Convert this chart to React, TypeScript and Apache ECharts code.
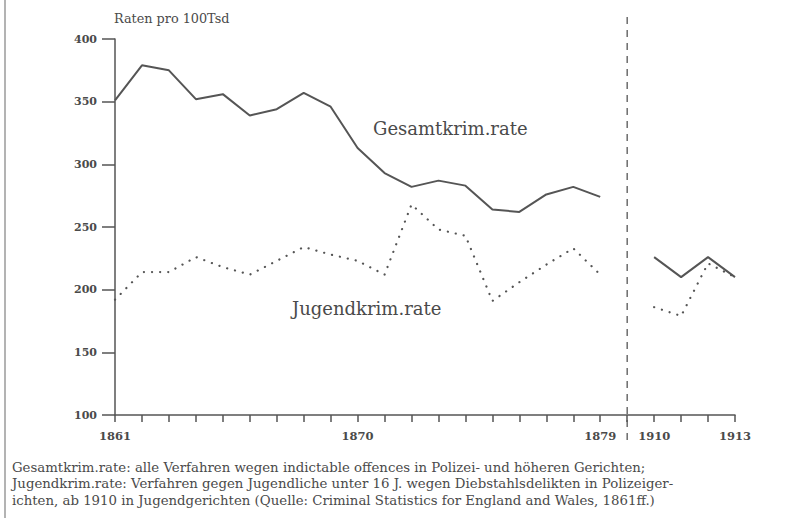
import React, { useEffect, useRef } from "react";
import * as echarts from "echarts";

const years: string[] = [
  "1861", "1862", "1863", "1864", "1865", "1866", "1867", "1868", "1869", "1870",
  "1871", "1872", "1873", "1874", "1875", "1876", "1877", "1878", "1879",
  "",
  "1910", "1911", "1912", "1913",
];
const gesamtRate: (number | null)[] = [
  351, 379, 375, 352, 356, 339, 344, 357, 346, 313,
  293, 282, 287, 283, 264, 262, 276, 282, 274,
  null,
  226, 210, 226, 210,
];
const jugendRate: (number | null)[] = [
  192, 214, 214, 226, 218, 212, 223, 234, 228, 223,
  212, 268, 248, 243, 191, 206, 220, 233, 212,
  null,
  186, 179, 221, 210,
];
const labelledYears: string[] = ["1861", "1870", "1879", "1910", "1913"];
const gapCategory = "";
const yTicks = { min: 100, max: 400, interval: 50 };
const footnote: string[] = [
  "Gesamtkrim.rate: alle Verfahren wegen indictable offences in Polizei- und höheren Gerichten;",
  "Jugendkrim.rate: Verfahren gegen Jugendliche unter 16 J. wegen Diebstahlsdelikten in Polizeiger-",
  "ichten, ab 1910 in Jugendgerichten (Quelle: Criminal Statistics for England and Wales, 1861ff.)",
];

const INK = "#555555";
const TXT = "#4a4a4a";
const SERIF = "'DejaVu Serif', 'Liberation Serif', serif";

export default function App() {
  const ref = useRef<HTMLDivElement>(null);
  useEffect(() => {
    if (!ref.current) return;
    const chart = echarts.init(ref.current, undefined, { renderer: "svg" });
    chart.setOption({
      animation: false,
      backgroundColor: "#ffffff",
      grid: { left: 115, right: 77, top: 39, bottom: 103 },
      xAxis: {
        type: "category",
        data: years,
        boundaryGap: false,
        axisLine: { lineStyle: { color: INK, width: 1.5 } },
        axisTick: { interval: 0, length: 7, lineStyle: { color: INK, width: 1.5 } },
        axisLabel: {
          interval: (_i: number, v: string) => labelledYears.includes(v),
          margin: 15,
          color: TXT,
          fontFamily: SERIF,
          fontWeight: "bold",
          fontSize: 11.5,
        },
        splitLine: { show: false },
      },
      yAxis: {
        type: "value",
        min: yTicks.min,
        max: yTicks.max,
        interval: yTicks.interval,
        name: "Raten pro 100Tsd",
        nameLocation: "end",
        nameGap: 14,
        nameTextStyle: { align: "left", color: TXT, fontFamily: SERIF, fontSize: 12.8, padding: [0, 0, 0, -1] },
        axisLine: { show: true, lineStyle: { color: INK, width: 1.5 } },
        axisTick: { show: true, length: 13, lineStyle: { color: INK, width: 1.5 } },
        axisLabel: { margin: 18, color: TXT, fontFamily: SERIF, fontWeight: "bold", fontSize: 11 },
        splitLine: { show: false },
      },
      series: [
        {
          name: "Gesamtkrim.rate",
          type: "line",
          data: gesamtRate,
          connectNulls: false,
          showSymbol: false,
          symbol: "none",
          lineStyle: { color: INK, width: 2 },
        },
        {
          name: "Jugendkrim.rate",
          type: "line",
          data: jugendRate,
          connectNulls: false,
          showSymbol: false,
          symbol: "none",
          lineStyle: { color: INK, width: 2.2, type: [0.1, 8], cap: "round" },
        },
      ],
    });
    const gapX = chart.convertToPixel({ xAxisIndex: 0 }, gapCategory) as number;
    chart.setOption({
      graphic: [
        { type: "line", shape: { x1: 5, y1: 0, x2: 5, y2: 518 }, style: { stroke: "#9a9a9a", lineWidth: 1.5 } },
        {
          type: "line",
          shape: { x1: gapX, y1: 17, x2: gapX, y2: 440 },
          style: { stroke: INK, lineWidth: 1.3, lineDash: [7, 6] },
        },
        {
          type: "text",
          x: 373,
          y: 128,
          style: { text: "Gesamtkrim.rate", fill: TXT, font: `18px ${SERIF}`, textVerticalAlign: "middle" },
        },
        {
          type: "text",
          x: 292,
          y: 308,
          style: { text: "Jugendkrim.rate", fill: TXT, font: `18px ${SERIF}`, textVerticalAlign: "middle" },
        },
        ...footnote.map((line, i) => ({
          type: "text",
          x: 12,
          y: 467 + i * 16.5,
          style: { text: line, fill: TXT, font: `13.3px ${SERIF}`, textVerticalAlign: "middle" },
        })),
      ],
    });
    return () => chart.dispose();
  }, []);
  return <div ref={ref} style={{ position: "absolute", left: 0, top: 0, width: 812, height: 518 }} />;
}
